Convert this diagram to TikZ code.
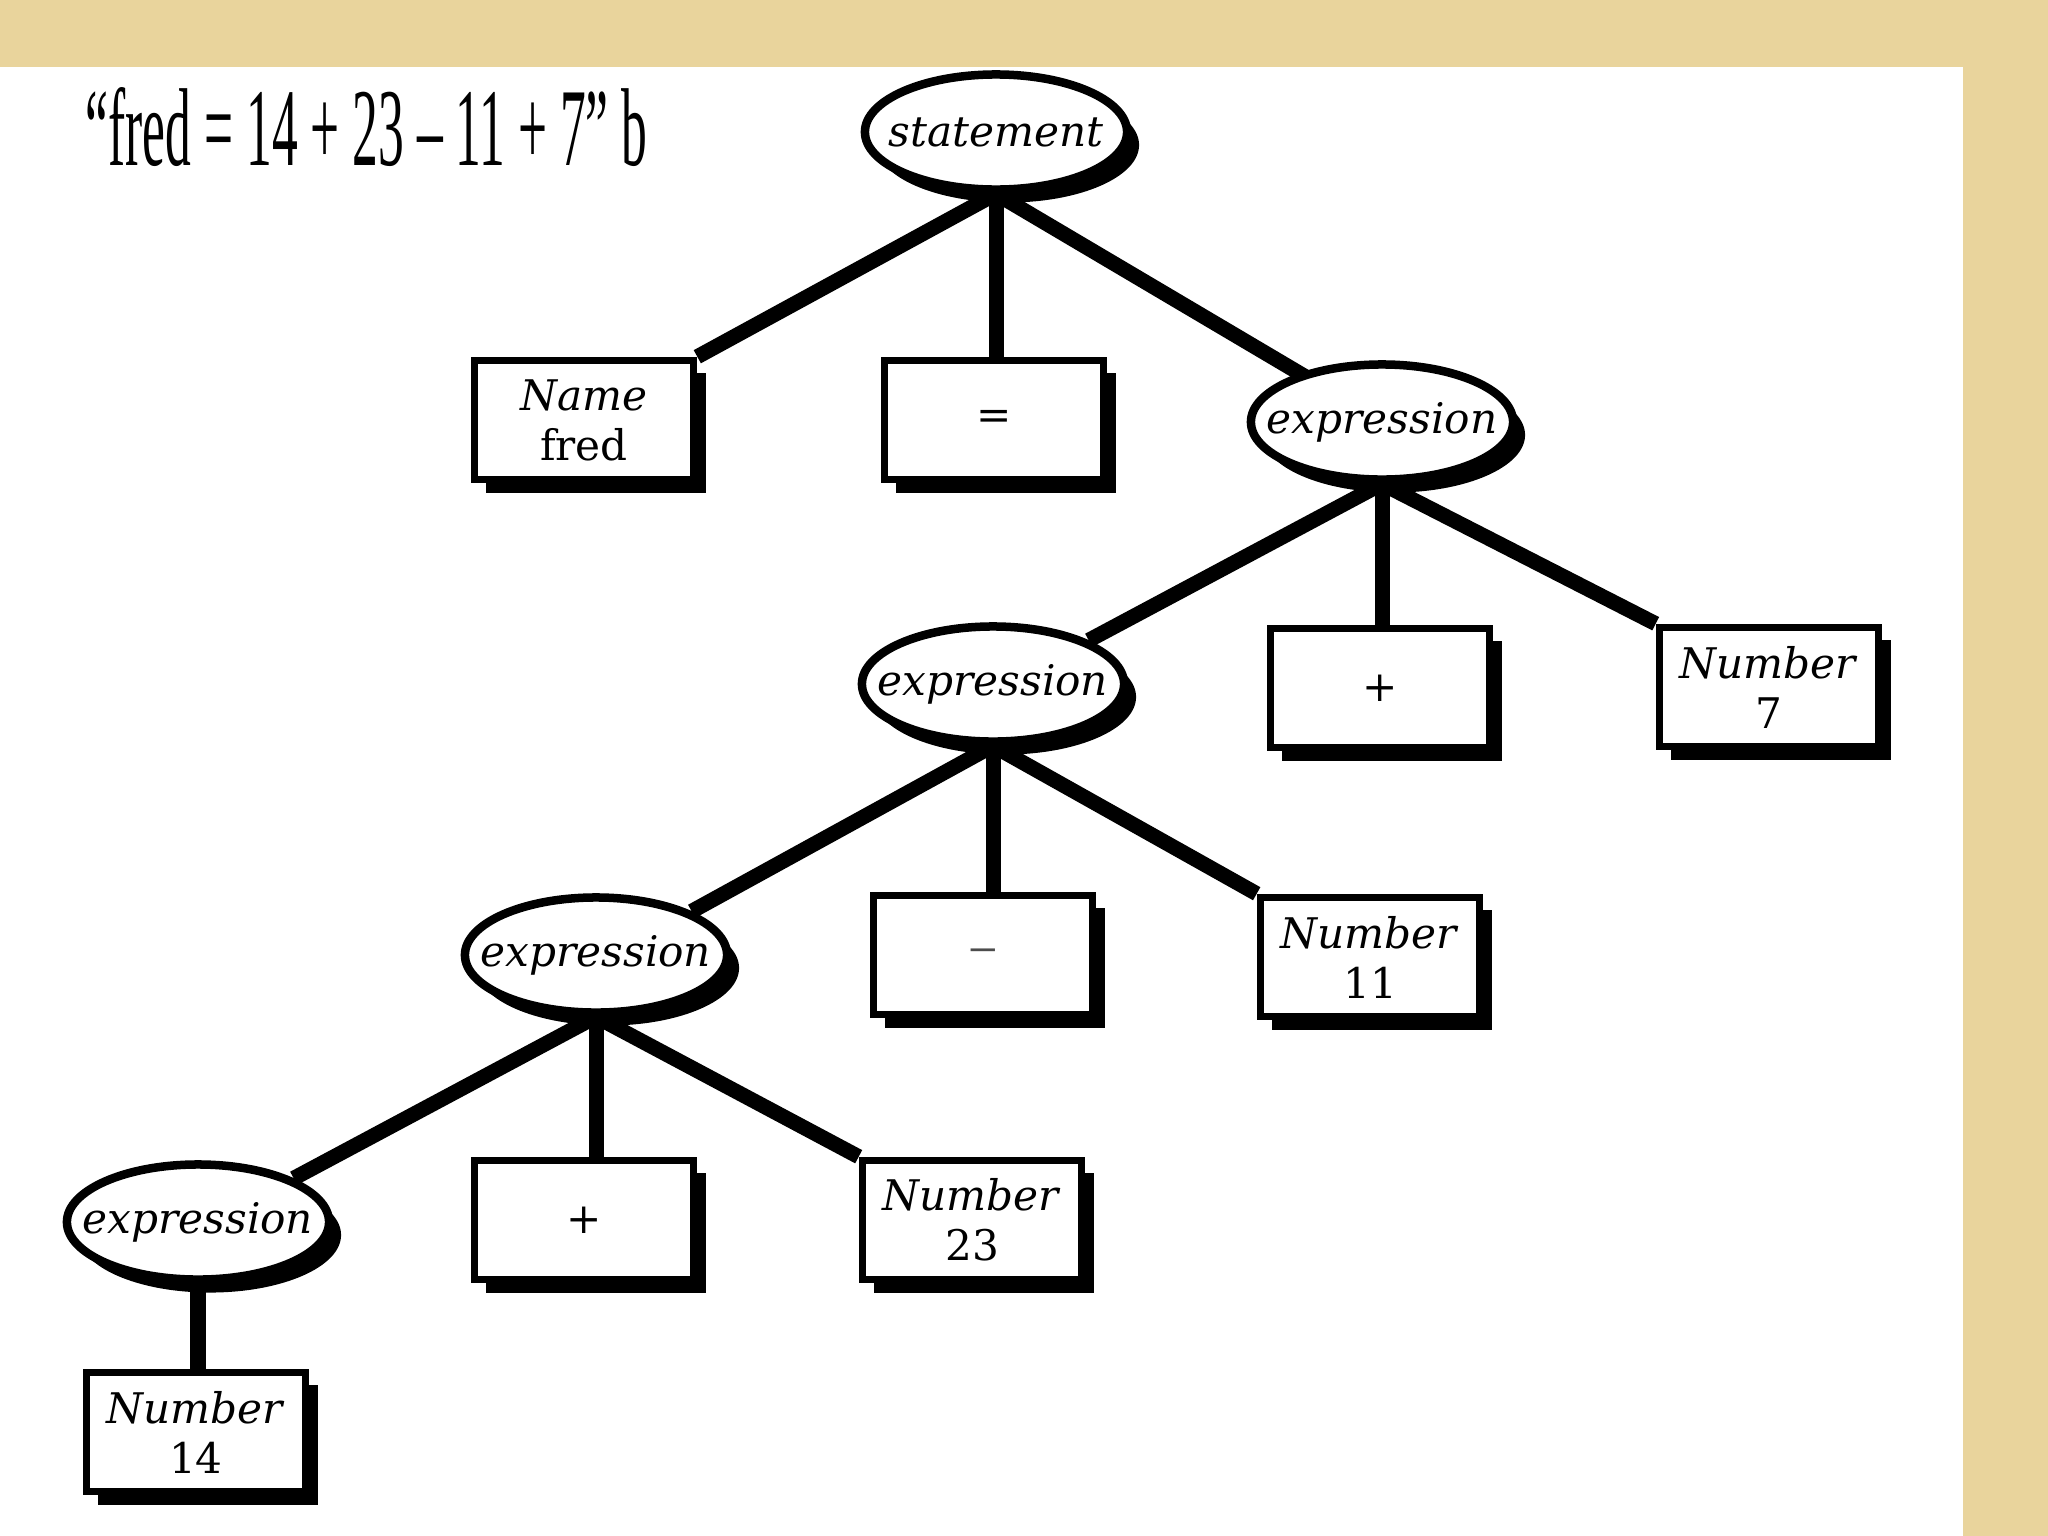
\documentclass[tikz,border=0pt]{standalone}
\usepackage{fontspec}
\setmainfont{DejaVu Serif}
\newfontfamily\titlefont{Liberation Serif}
\usetikzlibrary{shapes.geometric,shadows,backgrounds}
\definecolor{papyrus}{HTML}{E9D49C}
\newcommand{\elltext}[1]{\makebox[0pt]{#1}}
\begin{document}
\begin{tikzpicture}[x=0.01cm,y=-0.01cm,
  shade/.style={drop shadow={shadow xshift=0.12cm, shadow yshift=-0.13cm, fill=black, opacity=1}},
  box/.style={rectangle, draw=black, line width=0.075cm, fill=white, minimum width=2.19cm, minimum height=1.19cm, inner sep=0pt, align=center, font=\fontsize{12}{14.2}\selectfont, shade},
  ell/.style={ellipse, draw=black, line width=0.085cm, fill=white, minimum width=2.62cm, minimum height=1.15cm, inner sep=0pt, font=\itshape\fontsize{12}{14.2}\selectfont, shade},
  link/.style={line width=0.15cm, draw=black}]
\useasboundingbox (0,0) rectangle (2048,1536);

\node[anchor=base west, inner sep=0pt] (title) at (85,165) {\scalebox{0.465}[1]{\titlefont\fontsize{31.5}{31.5}\selectfont “fred = 14 + 23 – 11 + 7” b}};

\node[ell] (stmt) at (996,132) {\elltext{statement}};
\node[box] (name) at (584,420) {\textit{Name}\\fred};
\node[box] (eq) at (994,420) {=};
\node[ell] (exA) at (1382,422) {\elltext{expression}};
\node[ell] (exB) at (993,684) {\elltext{expression}};
\node[box] (plA) at (1380,688) {+};
\node[box] (n7) at (1769,687) {\textit{Number}\\7};
\node[ell] (exC) at (596,955) {\elltext{expression}};
\node[box] (mi) at (983,955) {\textcolor{black!70}{\scalebox{1.4}[1]{–}}};
\node[box] (n11) at (1370,957) {\textit{Number}\\11};
\node[ell] (exD) at (198,1222) {\elltext{expression}};
\node[box] (plB) at (584,1220) {+};
\node[box] (n23) at (972,1220) {\textit{Number}\\23};
\node[box] (n14) at (196,1432) {\textit{Number}\\14};

\begin{scope}[on background layer]
  \fill[papyrus] (0,0) rectangle (2048,1536);
  \fill[white] (0,67) rectangle (1963,1536);
  \draw[link] (stmt.south) -- (name.north east);
  \draw[link] (stmt.south) -- (stmt.south |- eq.north);
  \draw[link] (stmt.south) -- (exA.center);
  \draw[link] (exA.south) -- (exB.north east);
  \draw[link] (exA.south) -- (exA.south |- plA.north);
  \draw[link] (exA.south) -- (n7.north west);
  \draw[link] (exB.south) -- (exC.north east);
  \draw[link] (exB.south) -- (exB.south |- mi.north);
  \draw[link] (exB.south) -- (n11.north west);
  \draw[link] (exC.south) -- (exD.north east);
  \draw[link] (exC.south) -- (exC.south |- plB.north);
  \draw[link] (exC.south) -- (n23.north west);
  \draw[link] (exD.south) -- (exD.south |- n14.north);
\end{scope}
\end{tikzpicture}
\end{document}
